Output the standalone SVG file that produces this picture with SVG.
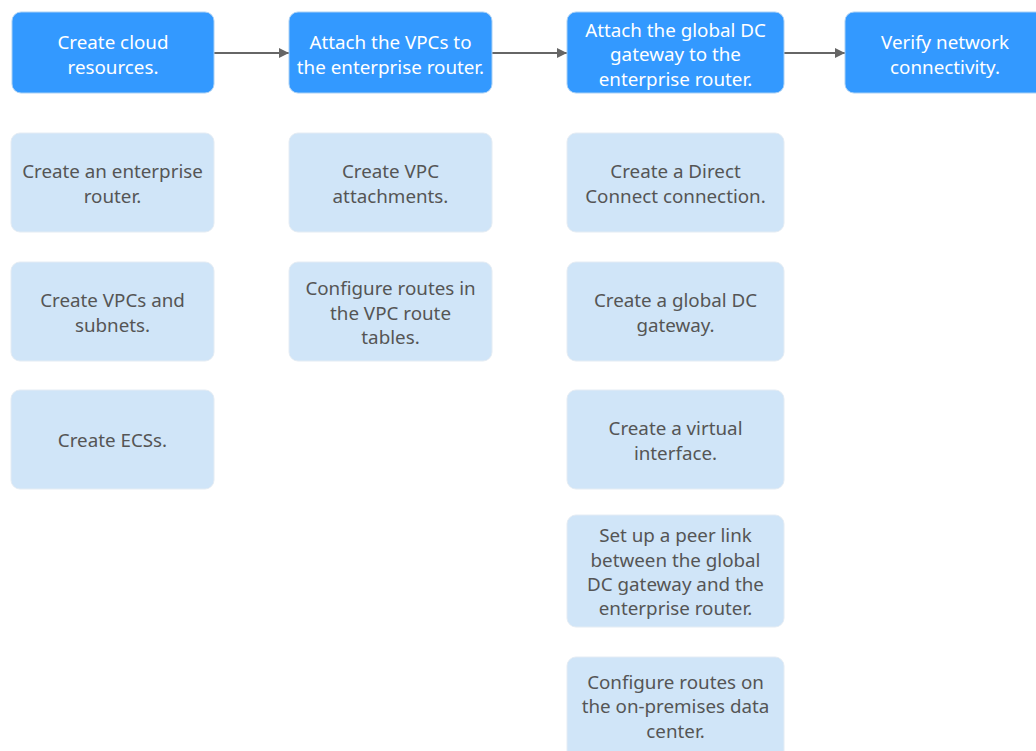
<svg xmlns="http://www.w3.org/2000/svg" width="1036" height="751" viewBox="0 0 1036 751">
  <defs>
    <marker id="arrow" viewBox="0 0 10 10" refX="10" refY="5" markerWidth="10" markerHeight="10" markerUnits="userSpaceOnUse" orient="auto">
      <path d="M0,0 L10,5 L0,10 z" fill="#666666"/>
    </marker>
    <style>
      .step { fill: #3399ff; stroke: #a9d0f5; stroke-width: 1; }
      .task { fill: #d0e5f8; stroke: #e4ecf4; stroke-width: 1; }
      .step-t { fill: #ffffff; font-family: "Noto Sans", "Open Sans", sans-serif; font-size: 18.8px; text-anchor: middle; }
      .task-t { fill: #555555; font-family: "Noto Sans", "Open Sans", sans-serif; font-size: 18.8px; text-anchor: middle; }
      .link { stroke: #666666; stroke-width: 2; fill: none; marker-end: url(#arrow); }
    </style>
  </defs>
  <rect width="1036" height="751" fill="#ffffff"/>

  <!-- Connectors between the main steps -->
  <g id="connectors">
    <line class="link" x1="214" y1="53" x2="289" y2="53"/>
    <line class="link" x1="492" y1="53" x2="567" y2="53"/>
    <line class="link" x1="784" y1="53" x2="845" y2="53"/>
  </g>

  <!-- Main steps -->
  <g id="step1">
    <rect class="step" x="12" y="12" width="202" height="81" rx="9"/>
    <text class="step-t"><tspan x="113" y="49">Create cloud</tspan><tspan x="113" y="74">resources.</tspan></text>
  </g>
  <g id="step2">
    <rect class="step" x="289" y="12" width="203" height="81" rx="9"/>
    <text class="step-t"><tspan x="390.5" y="49">Attach the VPCs to</tspan><tspan x="390.5" y="74">the enterprise router.</tspan></text>
  </g>
  <g id="step3">
    <rect class="step" x="567" y="12" width="217" height="81" rx="9"/>
    <text class="step-t"><tspan x="675.5" y="37">Attach the global DC</tspan><tspan x="675.5" y="61">gateway to the</tspan><tspan x="675.5" y="86">enterprise router.</tspan></text>
  </g>
  <g id="step4">
    <rect class="step" x="845" y="12" width="202" height="81" rx="9"/>
    <text class="step-t"><tspan x="945" y="49">Verify network</tspan><tspan x="945" y="74">connectivity.</tspan></text>
  </g>

  <!-- Tasks under step 1 -->
  <g id="task-er">
    <rect class="task" x="11" y="133" width="203" height="99" rx="9"/>
    <text class="task-t"><tspan x="112.5" y="178">Create an enterprise</tspan><tspan x="112.5" y="203">router.</tspan></text>
  </g>
  <g id="task-vpc">
    <rect class="task" x="11" y="262" width="203" height="99" rx="9"/>
    <text class="task-t"><tspan x="112.5" y="307">Create VPCs and</tspan><tspan x="112.5" y="332">subnets.</tspan></text>
  </g>
  <g id="task-ecs">
    <rect class="task" x="11" y="390" width="203" height="99" rx="9"/>
    <text class="task-t"><tspan x="112.5" y="447">Create ECSs.</tspan></text>
  </g>

  <!-- Tasks under step 2 -->
  <g id="task-attach">
    <rect class="task" x="289" y="133" width="203" height="99" rx="9"/>
    <text class="task-t"><tspan x="390.5" y="178">Create VPC</tspan><tspan x="390.5" y="203">attachments.</tspan></text>
  </g>
  <g id="task-vpc-routes">
    <rect class="task" x="289" y="262" width="203" height="99" rx="9"/>
    <text class="task-t"><tspan x="390.5" y="295">Configure routes in</tspan><tspan x="390.5" y="320">the VPC route</tspan><tspan x="390.5" y="344">tables.</tspan></text>
  </g>

  <!-- Tasks under step 3 -->
  <g id="task-dc">
    <rect class="task" x="567" y="133" width="217" height="99" rx="9"/>
    <text class="task-t"><tspan x="675.5" y="178">Create a Direct</tspan><tspan x="675.5" y="203">Connect connection.</tspan></text>
  </g>
  <g id="task-gdgw">
    <rect class="task" x="567" y="262" width="217" height="99" rx="9"/>
    <text class="task-t"><tspan x="675.5" y="307">Create a global DC</tspan><tspan x="675.5" y="332">gateway.</tspan></text>
  </g>
  <g id="task-vif">
    <rect class="task" x="567" y="390" width="217" height="99" rx="9"/>
    <text class="task-t"><tspan x="675.5" y="435">Create a virtual</tspan><tspan x="675.5" y="460">interface.</tspan></text>
  </g>
  <g id="task-peer">
    <rect class="task" x="567" y="515" width="217" height="112" rx="9"/>
    <text class="task-t"><tspan x="675.5" y="542">Set up a peer link</tspan><tspan x="675.5" y="567">between the global</tspan><tspan x="675.5" y="591">DC gateway and the</tspan><tspan x="675.5" y="615">enterprise router.</tspan></text>
  </g>
  <g id="task-onprem">
    <rect class="task" x="567" y="657" width="217" height="105" rx="9"/>
    <text class="task-t"><tspan x="675.5" y="689">Configure routes on</tspan><tspan x="675.5" y="713">the on-premises data</tspan><tspan x="675.5" y="738">center.</tspan></text>
  </g>
</svg>
